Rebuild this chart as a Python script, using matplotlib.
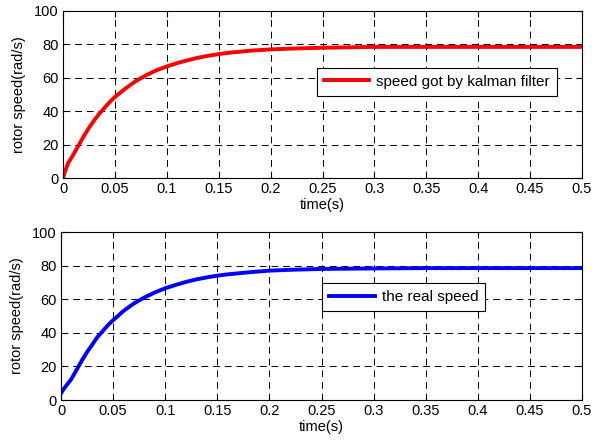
import matplotlib
matplotlib.use("Agg")
import matplotlib.pyplot as plt
import numpy as np

plt.rcParams['font.family'] = ['Liberation Sans', 'DejaVu Sans']

# values
t = [0, 0.002, 0.005, 0.01, 0.015, 0.02, 0.025, 0.03, 0.035, 0.04, 0.045, 0.05,
     0.06, 0.07, 0.08, 0.09, 0.1, 0.11, 0.12, 0.13, 0.14, 0.15, 0.16, 0.18,
     0.2, 0.22, 0.25, 0.28, 0.3, 0.35, 0.4, 0.45, 0.5]
speed_kalman = [0, 4, 9, 14, 19.5, 25, 30, 34.5, 38.5, 42, 45.5, 48.5,
                53.5, 58, 61.5, 64.5, 66.8, 68.8, 70.5, 72, 73.2, 74.2, 75, 76.2,
                77, 77.5, 78, 78.3, 78.5, 78.5, 78.5, 78.5, 78.5]
speed_real = [4, 6, 8.5, 12.5, 18, 23.5, 28.5, 33, 37.5, 41, 44.5, 47.5,
              53, 57.5, 61, 64, 66.5, 68.5, 70.3, 71.8, 73, 74, 74.8, 76,
              77, 77.5, 78, 78.2, 78.3, 78.5, 78.5, 78.5, 78.5]

xticks = [0, 0.05, 0.1, 0.15, 0.2, 0.25, 0.3, 0.35, 0.4, 0.45, 0.5]
xtick_labels = ['0', '0.05', '0.1', '0.15', '0.2', '0.25', '0.3', '0.35', '0.4', '0.45', '0.5']
yticks = [0, 20, 40, 60, 80, 100]

fig = plt.figure(figsize=(5.92, 4.47), dpi=100)
ax1 = fig.add_axes([63/592, 1 - 178/447, 519/592, 167/447])
ax2 = fig.add_axes([61/592, 1 - 400/447, 521/592, 168/447])


def style(ax):
    ax.set_xlim(0, 0.5)
    ax.set_ylim(0, 100)
    ax.set_xticks(xticks)
    ax.set_xticklabels(xtick_labels)
    ax.set_yticks(yticks)
    ax.tick_params(direction='in', top=True, right=True, labelsize=10.5, length=4, pad=3)
    ax.grid(True, color='black', linestyle=(0, (7, 5)), linewidth=0.7)
    ax.set_xlabel('time(s)', fontsize=10.5, labelpad=1)
    ax.set_ylabel('rotor speed(rad/s)', fontsize=10.5, labelpad=6)
    for s in ax.spines.values():
        s.set_linewidth(0.8)


leg_kw = dict(loc='upper left', fontsize=11, fancybox=False, edgecolor='black',
              framealpha=1, handlelength=3.0, borderpad=0.45, handletextpad=0.45,
              borderaxespad=0)

ax1.plot(t, speed_kalman, color='red', linewidth=2.8, label='speed got by kalman filter')
style(ax1)
leg1 = ax1.legend(bbox_to_anchor=(0.489, 0.659), **leg_kw)
leg1.get_frame().set_linewidth(0.8)

ax2.plot(t, speed_real, color='blue', linewidth=2.8, label='the real speed')
style(ax2)
leg2 = ax2.legend(bbox_to_anchor=(0.501, 0.696), **leg_kw)
leg2.get_frame().set_linewidth(0.8)

fig.savefig('out.png', dpi=100)
